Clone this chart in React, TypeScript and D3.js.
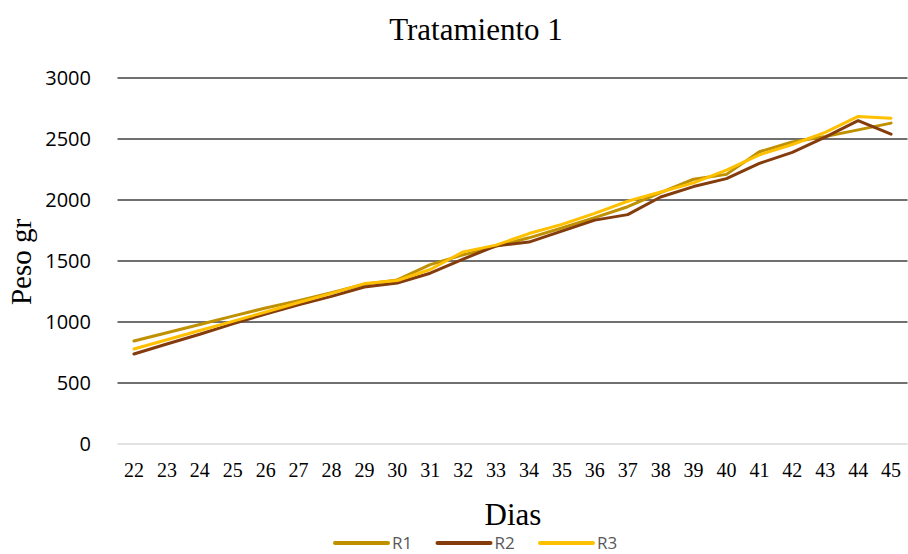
import { scaleLinear, scalePoint, line } from "d3";

// Data
const days = [22, 23, 24, 25, 26, 27, 28, 29, 30, 31, 32, 33, 34, 35, 36, 37, 38, 39, 40, 41, 42, 43, 44, 45];
const r1 = [844, 912, 980, 1048, 1115, 1175, 1240, 1310, 1345, 1470, 1550, 1620, 1690, 1770, 1855, 1945, 2060, 2170, 2210, 2395, 2475, 2520, 2575, 2630];
const r2 = [738, 820, 900, 985, 1066, 1140, 1210, 1287, 1320, 1400, 1515, 1625, 1655, 1745, 1835, 1880, 2025, 2110, 2175, 2300, 2390, 2515, 2650, 2540];
const r3 = [779, 855, 930, 1005, 1082, 1160, 1235, 1315, 1340, 1430, 1575, 1630, 1725, 1800, 1890, 1990, 2065, 2140, 2245, 2370, 2455, 2555, 2685, 2670];
const yTicks = [0, 500, 1000, 1500, 2000, 2500, 3000];

const series = [
  { name: "R1", values: r1, color: "#BF9000" },
  { name: "R2", values: r2, color: "#843C0C" },
  { name: "R3", values: r3, color: "#FFC000" },
];

const W = 908;
const H = 554;
const serif = "'Liberation Serif', 'Times New Roman', serif";
const sans = "'Open Sans', 'Liberation Sans', sans-serif";

export default function App() {
  const x = scalePoint<number>().domain(days).range([117.5, 907.5]).padding(0.5);
  const y = scaleLinear().domain([0, 3000]).range([444, 78]);

  const path = line<number>()
    .x((_, i) => x(days[i])!)
    .y((d) => y(d));

  return (
    <svg width={W} height={H} style={{ position: "absolute", left: 0, top: 0 }}>
      <rect width={W} height={H} fill="#fff" />
      {/* title */}
      <text x={476} y={40} textAnchor="middle" fontFamily={serif} fontSize={31} fill="#000">
        Tratamiento 1
      </text>

      {/* gridlines + y ticks */}
      {yTicks.map((t) => (
        <g key={t}>
          <line
            x1={117.5}
            x2={907.5}
            y1={y(t)}
            y2={y(t)}
            stroke={t === 0 ? "#d9d9d9" : "#404040"}
            strokeWidth={1.5}
          />
          <text x={91} y={y(t)} dy="0.35em" textAnchor="end" fontFamily={sans} fontSize={20} fill="#000">
            {t}
          </text>
        </g>
      ))}

      {/* x ticks */}
      {days.map((d) => (
        <text key={d} x={x(d)} y={477} textAnchor="middle" fontFamily={serif} fontSize={20} fill="#000">
          {d}
        </text>
      ))}

      {/* lines */}
      {series.map((s) => (
        <path key={s.name} d={path(s.values)!} fill="none" stroke={s.color} strokeWidth={3} strokeLinejoin="round" strokeLinecap="round" />
      ))}

      {/* axis titles */}
      <text x={513} y={525} textAnchor="middle" fontFamily={serif} fontSize={31} fill="#000">
        Dias
      </text>
      <text
        transform={`translate(31, 262) rotate(-90)`}
        textAnchor="middle"
        fontFamily={serif}
        fontSize={29}
        fill="#000"
      >
        Peso gr
      </text>

      {/* legend */}
      {series.map((s, i) => {
        const lx = 335 + i * 102.5;
        return (
          <g key={s.name}>
            <line x1={lx} x2={lx + 53} y1={543} y2={543} stroke={s.color} strokeWidth={4} strokeLinecap="round" />
            <text x={lx + 57} y={549} fontFamily={sans} fontSize={17} fill="#595959">
              {s.name}
            </text>
          </g>
        );
      })}
    </svg>
  );
}
